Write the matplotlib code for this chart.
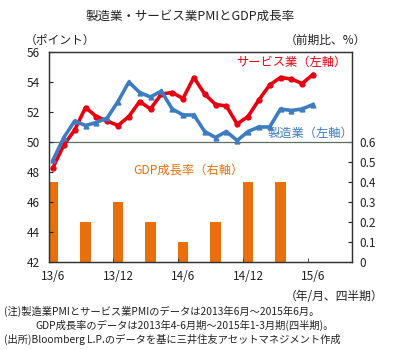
import numpy as np
from matplotlib import pyplot as plt
from matplotlib.ticker import FixedLocator

plt.rcParams['font.family'] = ['Noto Sans CJK JP', 'DejaVu Sans']

# data (2013/6 - 2015/6, monthly)
months = np.arange(25)
manufacturing = [48.8, 50.3, 51.4, 51.1, 51.3, 51.6, 52.7, 54.0, 53.3, 53.0, 53.4, 52.2, 51.8,
                 51.8, 50.7, 50.3, 50.7, 50.1, 50.7, 51.0, 51.0, 52.2, 52.1, 52.2, 52.5]
services = [48.3, 49.8, 50.8, 52.3, 51.7, 51.4, 51.1, 51.7, 52.7, 52.2, 53.2, 53.3, 52.9,
            54.3, 53.2, 52.5, 52.4, 51.2, 51.7, 52.8, 53.8, 54.3, 54.2, 53.9, 54.5]
# GDP q/q (%), 2013 Q2 - 2015 Q1
gdp_pos = [0, 3, 6, 9, 12, 15, 18, 21]
gdp = [0.4, 0.2, 0.3, 0.2, 0.1, 0.2, 0.4, 0.4]
tick_pos = [0, 6, 12, 18, 24]
tick_labels = ['13/6', '13/12', '14/6', '14/12', '15/6']

W, H = 396, 350
fig = plt.figure(figsize=(W / 100, H / 100), dpi=100)
ax = fig.add_axes([49 / W, 1 - 262 / H, (352 - 49) / W, (262 - 52) / H])
ax2 = ax.twinx()
ax.set_zorder(ax2.get_zorder() + 1)
ax.patch.set_visible(False)

txt = '#222222'
red = '#e60012'
blue = '#3d7cc0'
orange = '#e8700c'

# bars on right axis
ax2.bar(gdp_pos, gdp, width=1.0, color=orange, edgecolor='none')
ax2.set_ylim(0, 1.05)
ax2.set_yticks([0, 0.1, 0.2, 0.3, 0.4, 0.5, 0.6])
ax2.set_yticklabels(['0', '0.1', '0.2', '0.3', '0.4', '0.5', '0.6'])

# lines on left axis
ax.axhline(50, color='#5f6f5f', lw=0.9, zorder=1)
ax.plot(months, services, '-o', color=red, lw=2.6, ms=3.5, zorder=3)
ax.plot(months, manufacturing, '-^', color=blue, lw=2.6, ms=3.5, zorder=3)
ax.set_ylim(42, 56)
ax.set_yticks(np.arange(42, 57, 2))
ax.set_xlim(-0.37, 27.6)
ax.set_xticks(tick_pos)
ax.set_xticklabels(tick_labels)
ax.xaxis.set_minor_locator(FixedLocator([5.5, 11.5, 17.5, 23.5]))

for a in (ax, ax2):
    for s in a.spines.values():
        s.set_color('#333333')
        s.set_linewidth(0.9)
ax.tick_params(axis='y', direction='in', length=3, labelsize=8.5, colors=txt, pad=16)
ax.tick_params(axis='x', which='major', length=0, labelsize=8.5, colors=txt, pad=6)
ax.tick_params(axis='x', which='minor', direction='in', length=3, color='#333333')
ax2.tick_params(axis='y', direction='in', length=3, labelsize=8.5, colors=txt, pad=5)
for lab in ax.get_yticklabels():
    lab.set_horizontalalignment('left')

# series labels
ax.text(346 / W, 1 - 62 / H, 'サービス業（左軸）', transform=fig.transFigure, color=red,
        fontsize=8.8, ha='right', va='center')
ax.text(353 / W, 1 - 133 / H, '製造業（左軸）', transform=fig.transFigure, color=blue,
        fontsize=8.8, ha='right', va='center')
ax.text(188 / W, 1 - 170 / H, 'GDP成長率（右軸）', transform=fig.transFigure, color=orange,
        fontsize=8.8, ha='center', va='center')

# titles and notes
fig.text(190 / W, 1 - 16 / H, '製造業・サービス業PMIとGDP成長率', fontsize=9, color=txt,
         ha='center', va='center')
fig.text(25 / W, 1 - 40 / H, '（ポイント）', fontsize=8.5, color=txt, ha='left', va='center')
fig.text(366 / W, 1 - 40 / H, '（前期比、%）', fontsize=8.5, color=txt, ha='right', va='center')
fig.text(383 / W, 1 - 297 / H, '（年/月、四半期）', fontsize=8.5, color=txt, ha='right', va='center')
fig.text(4 / W, 1 - 311 / H, '(注)製造業PMIとサービス業PMIのデータは2013年6月～2015年6月。',
         fontsize=7.4, color=txt, ha='left', va='center')
fig.text(35 / W, 1 - 325 / H, 'GDP成長率のデータは2013年4-6月期～2015年1-3月期(四半期)。',
         fontsize=7.4, color=txt, ha='left', va='center')
fig.text(4 / W, 1 - 339 / H, '(出所)Bloomberg L.P.のデータを基に三井住友アセットマネジメント作成',
         fontsize=7.4, color=txt, ha='left', va='center')

fig.savefig('out.png', dpi=100)
